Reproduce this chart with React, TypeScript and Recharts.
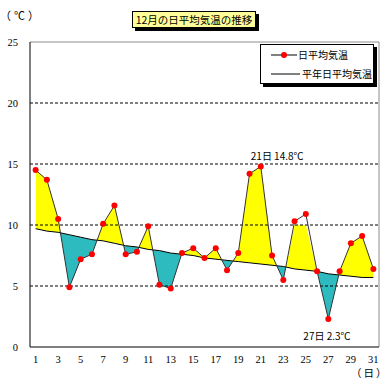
import React, { useEffect, useRef, useState } from 'react';
import { ComposedChart, Area, Line, XAxis, YAxis, ReferenceLine, Legend, LabelList } from 'recharts';

// ---- data ----
const days = [1, 2, 3, 4, 5, 6, 7, 8, 9, 10, 11, 12, 13, 14, 15, 16, 17, 18, 19, 20, 21, 22, 23, 24, 25, 26, 27, 28, 29, 30, 31];
const actualTemp = [14.5, 13.7, 10.5, 4.9, 7.2, 7.6, 10.1, 11.6, 7.6, 7.8, 9.9, 5.1, 4.8, 7.7, 8.1, 7.3, 8.1, 6.3, 7.7, 14.2, 14.8, 7.5, 5.5, 10.3, 10.9, 6.2, 2.3, 6.2, 8.5, 9.1, 6.4];
const normalTemp = [9.7, 9.5, 9.4, 9.2, 9.0, 8.8, 8.7, 8.5, 8.3, 8.2, 8.0, 7.9, 7.7, 7.6, 7.5, 7.3, 7.2, 7.1, 7.0, 6.9, 6.8, 6.7, 6.6, 6.4, 6.3, 6.2, 6.0, 5.9, 5.8, 5.7, 5.7];
// upper edge of the shaded band as drawn in the original (days 24-25 capped at 10)
const fillTop = [14.5, 13.7, 10.5, 4.9, 7.2, 7.6, 10.1, 11.6, 7.6, 7.8, 9.9, 5.1, 4.8, 7.7, 8.1, 7.3, 8.1, 6.3, 7.7, 14.2, 14.8, 7.5, 5.5, 10.0, 10.0, 6.2, 2.3, 6.2, 8.5, 9.1, 6.4];
const xLabelDays = [1, 3, 5, 7, 9, 11, 13, 15, 17, 19, 21, 23, 25, 27, 29, 31];
const xBoundaries = [1.5, 2.5, 3.5, 4.5, 5.5, 6.5, 7.5, 8.5, 9.5, 10.5, 11.5, 12.5, 13.5, 14.5, 15.5, 16.5, 17.5, 18.5, 19.5, 20.5, 21.5, 22.5, 23.5, 24.5, 25.5, 26.5, 27.5, 28.5, 29.5, 30.5];
const yTicks = [0, 5, 10, 15, 20, 25];
const gridValues = [5, 10, 15, 20];
const xDomain = [0.5, 31.5];
const yDomain = [0, 25];
const annotatedDays = [21, 27];
const title = '12月の日平均気温の推移';
const actualName = '日平均気温';
const normalName = '平年日平均気温';
const yUnit = '（℃）';
const xUnit = '（日）';

const data = days.map((day, i) => ({
  day,
  actual: actualTemp[i],
  normal: normalTemp[i],
  band: [normalTemp[i], fillTop[i]],
}));

const JP = '"Noto Sans CJK JP", sans-serif';
const SERIF = '"Liberation Serif", serif';

const AnnoLabel = (props: any) => {
  const { x, y, index } = props;
  if (index == null || x == null || y == null) return null;
  const day = days[index];
  if (!annotatedDays.includes(day)) return null;
  const v = actualTemp[index];
  const above = v >= normalTemp[index];
  return (
    <text
      x={above ? x - 10 : x - 25}
      y={above ? y - 6 : y + 21}
      fontSize={10}
      fontFamily={JP}
      fill="#000"
    >
      {`${day}日 ${v.toFixed(1)}℃`}
    </text>
  );
};

const LegendBox = () => (
  <div
    style={{
      position: 'relative',
      width: 114,
      height: 40,
      boxSizing: 'border-box',
      border: '1px solid #000',
      background: '#fff',
      boxShadow: '3px 3px 0 #000',
      fontFamily: JP,
      fontSize: 10,
      color: '#000',
    }}
  >
    <svg width={112} height={38} style={{ position: 'absolute', left: 0, top: 0 }}>
      <line x1={10} x2={36} y1={10} y2={10} stroke="#000" strokeWidth={1} />
      <circle cx={23} cy={10} r={3} fill="#ff0000" />
      <line x1={10} x2={39} y1={29} y2={29} stroke="#000" strokeWidth={1} />
    </svg>
    <div style={{ position: 'absolute', left: 37, top: 3, lineHeight: '14px', whiteSpace: 'nowrap' }}>{actualName}</div>
    <div style={{ position: 'absolute', left: 41, top: 22, lineHeight: '14px', whiteSpace: 'nowrap' }}>{normalName}</div>
  </div>
);

export default function App() {
  const ref = useRef<HTMLDivElement>(null);
  const [normalPath, setNormalPath] = useState<string>('');

  useEffect(() => {
    const root = ref.current;
    if (!root) return;
    const update = () => {
      const p = root.querySelector('.normal-line .recharts-line-curve');
      const d = p ? p.getAttribute('d') : null;
      if (d) setNormalPath((prev) => (prev === d ? prev : d));
    };
    update();
    const mo = new MutationObserver(update);
    mo.observe(root, { subtree: true, childList: true, attributes: true });
    return () => mo.disconnect();
  }, []);

  let above = 'M0,0Z';
  let below = 'M0,0Z';
  if (normalPath) {
    const nums = (normalPath.match(/-?\d+(\.\d+)?(e-?\d+)?/g) || []).map(Number);
    if (nums.length >= 4) {
      const x0 = nums[0];
      const xN = nums[nums.length - 2];
      above = `${normalPath}L${xN},-10000L${x0},-10000Z`;
      below = `${normalPath}L${xN},10000L${x0},10000Z`;
    }
  }

  return (
    <div ref={ref} style={{ position: 'absolute', left: 0, top: 0, width: 390, height: 390, background: '#fff', overflow: 'hidden' }}>
      <style>{`.fill-above .recharts-area-area{clip-path:url(#clipAbove);} .fill-below .recharts-area-area{clip-path:url(#clipBelow);}`}</style>
      <svg width={0} height={0} style={{ position: 'absolute', left: 0, top: 0 }}>
        <defs>
          <clipPath id="clipAbove">
            <path d={above} />
          </clipPath>
          <clipPath id="clipBelow">
            <path d={below} />
          </clipPath>
        </defs>
      </svg>

      <ComposedChart width={390} height={390} data={data} margin={{ top: 42, right: 11, bottom: 23, left: 0 }}>
        <XAxis
          dataKey="day"
          type="number"
          domain={xDomain}
          ticks={xLabelDays}
          interval={0}
          allowDataOverflow
          tickLine={false}
          tickSize={0}
          tickMargin={9}
          height={20}
          axisLine={{ stroke: '#000', strokeWidth: 1 }}
          tick={{ fill: '#000', fontSize: 10.5, fontFamily: SERIF }}
        />
        <XAxis
          xAxisId="bounds"
          dataKey="day"
          type="number"
          domain={xDomain}
          ticks={xBoundaries}
          interval={0}
          allowDataOverflow
          mirror
          tick={false}
          tickLine={{ stroke: '#000', strokeWidth: 1 }}
          tickSize={4}
          axisLine={false}
          height={1}
        />
        <YAxis
          type="number"
          domain={yDomain}
          ticks={yTicks}
          interval={0}
          allowDataOverflow
          tickLine={false}
          tickSize={0}
          tickMargin={12}
          width={30}
          axisLine={{ stroke: '#000', strokeWidth: 1 }}
          tick={{ fill: '#000', fontSize: 10.5, fontFamily: SERIF }}
        />
        <Legend
          layout="vertical"
          align="center"
          verticalAlign="middle"
          content={() => <LegendBox />}
          wrapperStyle={{ left: 260, top: 44, width: 114, height: 40, right: 'auto', bottom: 'auto' }}
        />
        <Area
          className="fill-above"
          dataKey="band"
          type="linear"
          fill="#ffff00"
          fillOpacity={1}
          stroke="none"
          legendType="none"
          dot={false}
          activeDot={false}
          isAnimationActive={false}
        />
        <Area
          className="fill-below"
          dataKey="band"
          type="linear"
          fill="#2dbbbf"
          fillOpacity={1}
          stroke="none"
          legendType="none"
          dot={false}
          activeDot={false}
          isAnimationActive={false}
        />
        {gridValues.map((v) => (
          <ReferenceLine key={v} y={v} stroke="#000" strokeWidth={1} strokeDasharray="3 2" />
        ))}
        <ReferenceLine y={yDomain[1]} stroke="#8c8c8c" strokeWidth={1} />
        <ReferenceLine x={xDomain[1]} stroke="#8c8c8c" strokeWidth={1} />
        <Line
          className="normal-line"
          dataKey="normal"
          name={normalName}
          type="linear"
          stroke="#000"
          strokeWidth={1}
          dot={false}
          activeDot={false}
          isAnimationActive={false}
        />
        <Line
          dataKey="actual"
          name={actualName}
          type="linear"
          stroke="#333"
          strokeWidth={1}
          dot={{ r: 3, fill: '#ff0000', stroke: '#ff0000', strokeWidth: 0 }}
          activeDot={false}
          isAnimationActive={false}
        >
          <LabelList dataKey="actual" content={AnnoLabel} />
        </Line>
      </ComposedChart>

      <div
        style={{
          position: 'absolute',
          left: 132,
          top: 11,
          width: 124,
          height: 17,
          boxSizing: 'border-box',
          border: '1px solid #000',
          background: '#ffff99',
          boxShadow: '3px 3px 0 #000',
          fontFamily: JP,
          fontSize: 10.5,
          lineHeight: '15px',
          textAlign: 'center',
          color: '#000',
          whiteSpace: 'nowrap',
        }}
      >
        {title}
      </div>
      <div style={{ position: 'absolute', left: 0, top: 8, fontFamily: JP, fontSize: 11, letterSpacing: 3, lineHeight: '14px', color: '#000', whiteSpace: 'nowrap' }}>{yUnit}</div>
      <div style={{ position: 'absolute', left: 351, top: 366, fontFamily: JP, fontSize: 10.5, letterSpacing: 2, lineHeight: '14px', color: '#000', whiteSpace: 'nowrap' }}>{xUnit}</div>
    </div>
  );
}
